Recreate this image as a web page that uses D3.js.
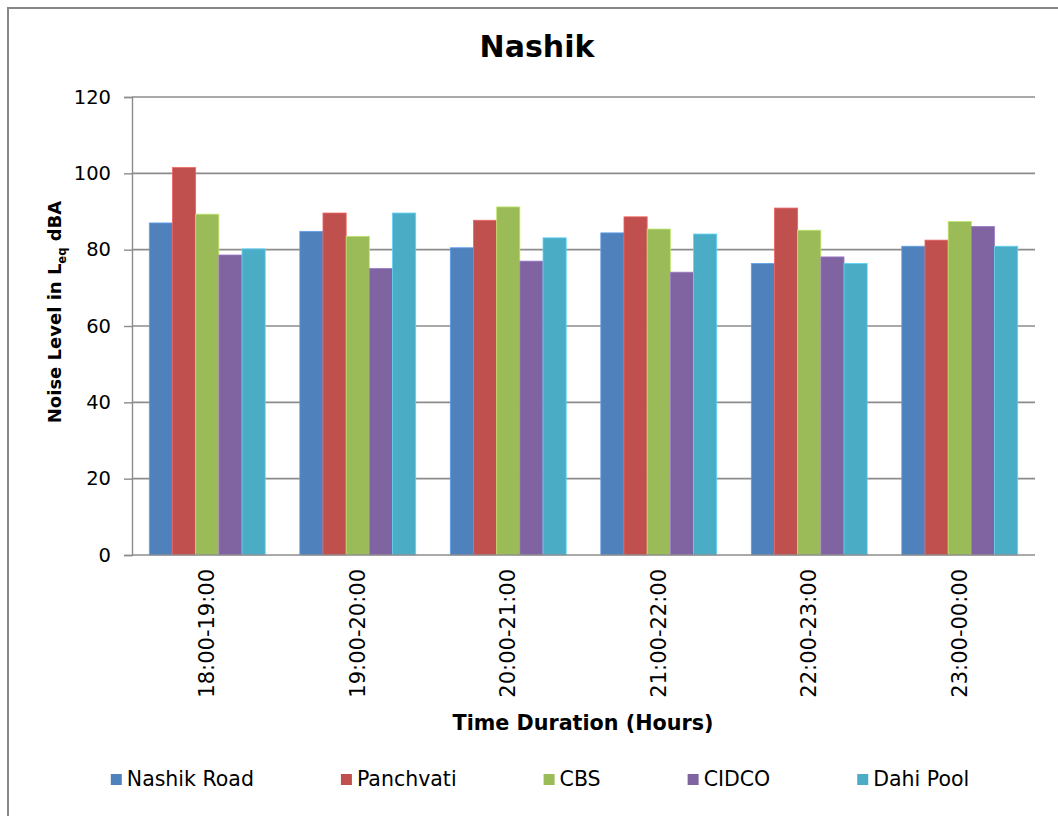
<!DOCTYPE html>
<html>
<head>
<meta charset="utf-8">
<script src="https://cdn.jsdelivr.net/npm/d3@7"></script>
<style>
  body { margin: 0; background: #fff; }
  svg { display: block; font-family: "DejaVu Sans", Verdana, sans-serif; }
</style>
</head>
<body>
<div id="chart"></div>
<script>
// values
const periods = ["18:00-19:00", "19:00-20:00", "20:00-21:00", "21:00-22:00", "22:00-23:00", "23:00-00:00"];
const sites = ["Nashik Road", "Panchvati", "CBS", "CIDCO", "Dahi Pool"];
const nashikRoad = [87.0, 84.8, 80.5, 84.4, 76.4, 80.9];
const panchvati  = [101.5, 89.6, 87.7, 88.6, 90.9, 82.5];
const cbs        = [89.3, 83.5, 91.2, 85.4, 85.1, 87.4];
const cidco      = [78.6, 75.1, 77.0, 74.1, 78.1, 86.1];
const dahiPool   = [80.2, 89.6, 83.1, 84.1, 76.4, 80.9];
const yTicks = [0, 20, 40, 60, 80, 100, 120];
const colors = ["#4F81BD", "#C0504D", "#9BBB59", "#8064A2", "#4BACC6"];

const series = [nashikRoad, panchvati, cbs, cidco, dahiPool];

const W = 1058, H = 816;
const margin = {left: 132, right: 23, top: 97, bottom: 261};

const svg = d3.select("#chart").append("svg")
  .attr("width", W)
  .attr("height", H);

// outer chart border
svg.append("rect")
  .attr("x", 8).attr("y", 8)
  .attr("width", W + 10).attr("height", H + 10)
  .attr("fill", "#fff")
  .attr("stroke", "#878787")
  .attr("stroke-width", 2);

const x0 = d3.scaleBand()
  .domain(periods)
  .range([margin.left, W - margin.right])
  .paddingInner(0.23)
  .paddingOuter(0.115);
const x1 = d3.scaleBand()
  .domain(d3.range(sites.length))
  .range([0, x0.bandwidth()]);
const y = d3.scaleLinear()
  .domain([0, 120])
  .range([H - margin.bottom, margin.top]);

// gridlines
svg.append("g")
  .selectAll("line")
  .data(yTicks.slice(1))
  .join("line")
  .attr("x1", margin.left).attr("x2", W - margin.right)
  .attr("y1", d => y(d)).attr("y2", d => y(d))
  .attr("stroke", "#8c8c8c")
  .attr("stroke-width", 1.6);

// y axis
const yAxis = svg.append("g")
  .attr("transform", `translate(${margin.left},0)`)
  .call(d3.axisLeft(y).tickValues(yTicks).tickSize(8).tickPadding(13));
yAxis.select(".domain").attr("stroke", "#8c8c8c").attr("stroke-width", 1.4);
yAxis.selectAll(".tick line").attr("stroke", "#8c8c8c").attr("stroke-width", 1.4);
yAxis.selectAll("text")
  .attr("font-size", 19.5)
  .attr("font-family", "DejaVu Sans")
  .attr("fill", "#000");

// bars
const groups = svg.append("g")
  .selectAll("g")
  .data(periods)
  .join("g")
  .attr("transform", d => `translate(${x0(d)},0)`);

groups.selectAll("rect")
  .data((p, i) => series.map((s, k) => ({k: k, v: s[i]})))
  .join("rect")
  .attr("x", d => x1(d.k))
  .attr("y", d => y(d.v))
  .attr("width", x1.bandwidth())
  .attr("height", d => y(0) - y(d.v))
  .attr("fill", d => colors[d.k])
  .attr("stroke", d => d3.color(colors[d.k]).brighter(0.6))
  .attr("stroke-width", 0.8);

// x axis line
svg.append("line")
  .attr("x1", margin.left).attr("x2", W - margin.right)
  .attr("y1", y(0)).attr("y2", y(0))
  .attr("stroke", "#8c8c8c")
  .attr("stroke-width", 1.4);

// category labels, rotated
svg.append("g")
  .selectAll("text")
  .data(periods)
  .join("text")
  .attr("transform", d => `translate(${x0(d) + x0.bandwidth() / 2 + 7},${y(0) + 14}) rotate(-90)`)
  .attr("text-anchor", "end")
  .attr("font-size", 21)
  .attr("fill", "#000")
  .text(d => d);

// title
svg.append("text")
  .attr("x", 537).attr("y", 57)
  .attr("text-anchor", "middle")
  .attr("font-size", 30)
  .attr("font-weight", "bold")
  .text("Nashik");

// x axis title
svg.append("text")
  .attr("x", 583).attr("y", 730)
  .attr("text-anchor", "middle")
  .attr("font-size", 20.7)
  .attr("font-weight", "bold")
  .text("Time Duration (Hours)");

// y axis title
const yTitle = svg.append("text")
  .attr("transform", "translate(61,312) rotate(-90)")
  .attr("text-anchor", "middle")
  .attr("font-size", 18)
  .attr("font-weight", "bold");
yTitle.append("tspan").text("Noise Level in L");
yTitle.append("tspan").attr("font-size", 11.5).attr("dy", 5).text("eq");
yTitle.append("tspan").attr("dy", -5).text(" dBA");

// legend
const legend = svg.append("g");
const items = legend.selectAll("g")
  .data(sites)
  .join("g");
items.append("rect")
  .attr("width", 11).attr("height", 11)
  .attr("y", 774)
  .attr("fill", (d, i) => colors[i]);
items.append("text")
  .attr("x", 16).attr("y", 786)
  .attr("font-size", 20.5)
  .text(d => d);

let cx = 0;
const gap = 87;
items.each(function() {
  const g = d3.select(this);
  const w = 16 + g.select("text").node().getComputedTextLength();
  g.attr("transform", `translate(${cx},0)`);
  cx += w + gap;
});
const total = cx - gap;
legend.attr("transform", `translate(${540 - total / 2},0)`);
</script>
</body>
</html>
